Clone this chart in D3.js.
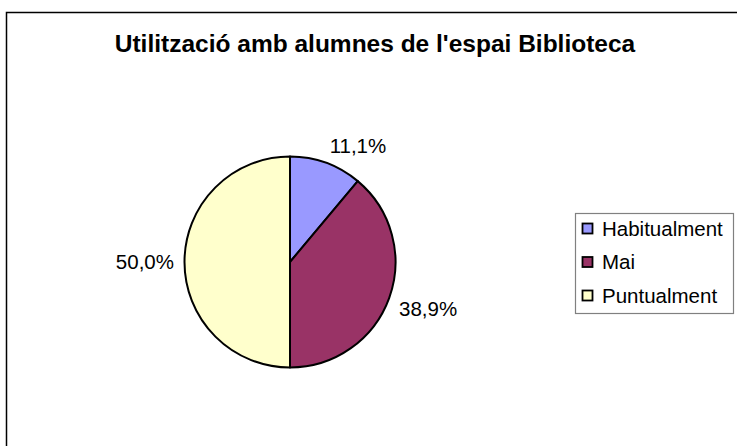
<!DOCTYPE html>
<html>
<head>
<meta charset="utf-8">
<script src="https://cdn.jsdelivr.net/npm/d3@7"></script>
<style>
  body { margin: 0; background: #fff; }
  svg { display: block; font-family: Arial, "Liberation Sans", sans-serif; }
</style>
</head>
<body>
<div id="chart"></div>
<script>
const title = "Utilització amb alumnes de l'espai Biblioteca";
const categories = ['Habitualment', 'Mai', 'Puntualment'];
const values = [11.1, 38.9, 50.0];
const colors = ['#9999ff', '#993366', '#ffffcc'];

const width = 737, height = 446;
const cx = 290, cy = 262, radius = 105.5;
const labelRadius = 116;
const labelSize = 20.5;

const svg = d3.select('#chart').append('svg')
  .attr('width', width)
  .attr('height', height);

svg.append('rect')
  .attr('width', width)
  .attr('height', height)
  .attr('fill', '#fff');

// outer chart frame (cropped at right and bottom)
svg.append('rect')
  .attr('x', 6.5)
  .attr('y', 12.5)
  .attr('width', width + 20)
  .attr('height', height + 20)
  .attr('fill', 'none')
  .attr('stroke', '#000')
  .attr('stroke-width', 1.5);

svg.append('text')
  .attr('x', 375)
  .attr('y', 52)
  .attr('text-anchor', 'middle')
  .style('font-size', '24.5px')
  .style('font-weight', 'bold')
  .text(title);

const color = d3.scaleOrdinal().domain(categories).range(colors);
const data = categories.map((c, i) => ({ name: c, value: values[i] }));

const pie = d3.pie().sort(null).value(d => d.value);
const arc = d3.arc().innerRadius(0).outerRadius(radius);
const arcs = pie(data);

const g = svg.append('g').attr('transform', `translate(${cx},${cy})`);

g.selectAll('path')
  .data(arcs)
  .enter().append('path')
    .attr('d', arc)
    .attr('fill', d => color(d.data.name))
    .attr('stroke', '#000')
    .attr('stroke-width', 2)
    .attr('stroke-linejoin', 'round');

const fmt = v => d3.format('.1f')(v).replace('.', ',') + '%';

// labels: the corner of the label nearest the pie sits on labelRadius
g.selectAll('.label')
  .data(arcs)
  .enter().append('text')
    .attr('class', 'label')
    .each(function(d) {
      const a = (d.startAngle + d.endAngle) / 2;
      const s = Math.sin(a), c = Math.cos(a);
      const x = s * labelRadius, y = -c * labelRadius;
      const cap = labelSize * 0.716;
      let dy = 0;
      if (c > 0.15) dy = -cap / 2;
      else if (c < -0.15) dy = cap / 2;
      d3.select(this)
        .attr('x', x)
        .attr('y', y + dy + cap / 2)
        .attr('text-anchor', Math.abs(s) < 0.05 ? 'middle' : (s > 0 ? 'start' : 'end'));
    })
    .style('font-size', labelSize + 'px')
    .text(d => fmt(d.data.value));

// legend
const legend = svg.append('g');
legend.append('rect')
  .attr('x', 575.5)
  .attr('y', 213.5)
  .attr('width', 158)
  .attr('height', 100)
  .attr('fill', '#fff')
  .attr('stroke', '#808080')
  .attr('stroke-width', 1.2);

const ly = d3.scalePoint().domain(categories).range([228.5, 295.5]);

const items = legend.selectAll('.item')
  .data(categories)
  .enter().append('g')
    .attr('class', 'item')
    .attr('transform', d => `translate(582,${ly(d)})`);

items.append('rect')
  .attr('x', 0.5)
  .attr('y', -5)
  .attr('width', 10)
  .attr('height', 10)
  .attr('fill', d => color(d))
  .attr('stroke', '#000')
  .attr('stroke-width', 1.8);

items.append('text')
  .attr('x', 20)
  .attr('y', labelSize * 0.358)
  .style('font-size', labelSize + 'px')
  .text(d => d);
</script>
</body>
</html>
